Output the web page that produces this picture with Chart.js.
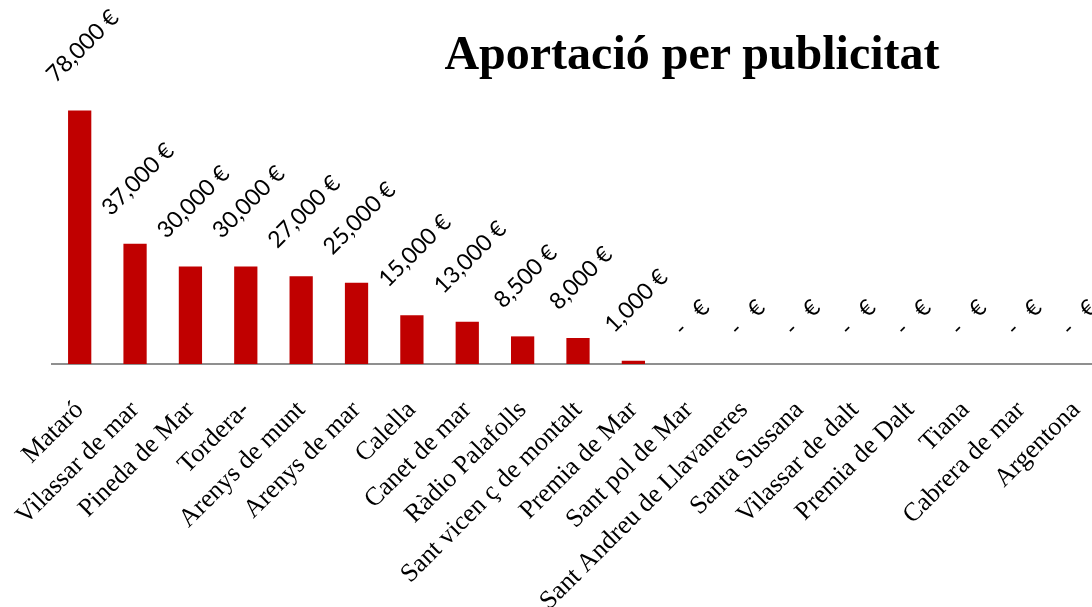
<!DOCTYPE html>
<html>
<head>
<meta charset="utf-8">
<script src="https://cdn.jsdelivr.net/npm/chart.js@4/dist/chart.umd.min.js"></script>
<style>
    html, body { margin: 0; padding: 0; background: #fff; overflow: hidden; }
    #wrap { position: relative; width: 1104px; height: 607px; }
    #title {
        position: absolute; left: 0; top: 29px; width: 1384px; text-align: center;
        font-family: 'Liberation Serif', 'Times New Roman', serif; font-weight: bold;
        font-size: 48px; color: #000; line-height: 1; pointer-events: none;
    }
</style>
</head>
<body>
<div id="wrap">
    <canvas id="chart"></canvas>
    <div id="title">Aportació per publicitat</div>
</div>
<script>
// Datos del gráfico
const categories = [
    'Mataró', 'Vilassar de mar', 'Pineda de Mar', 'Tordera-', 'Arenys de munt',
    'Arenys de mar', 'Calella', 'Canet de mar', 'Ràdio Palafolls', 'Sant vicen ç de montalt',
    'Premia de Mar', 'Sant pol de Mar', 'Sant Andreu de Llavaneres', 'Santa Sussana',
    'Vilassar de dalt', 'Premia de Dalt', 'Tiana', 'Cabrera de mar', 'Argentona'
];
const values = [78000, 37000, 30000, 30000, 27000, 25000, 15000, 13000, 8500, 8000, 1000, 0, 0, 0, 0, 0, 0, 0, 0];

const barColor = '#C00000';
const labelFont = "23px Lato, 'DejaVu Sans', sans-serif";

// Formato contable: "78,000 €" o "-   €"
const formatEuro = (v) => v === 0 ? '-   €' : v.toLocaleString('en-US') + ' €';

// Etiquetas de valor rotadas encima de cada barra
const valueLabels = {
    id: 'valueLabels',
    afterDatasetsDraw(chart) {
        const ctx = chart.ctx;
        const meta = chart.getDatasetMeta(0);
        ctx.save();
        ctx.font = labelFont;
        ctx.fillStyle = '#000';
        ctx.textAlign = 'center';
        ctx.textBaseline = 'middle';
        meta.data.forEach((bar, i) => {
            const text = formatEuro(values[i]);
            const w = ctx.measureText(text).width;
            const half = (w + 15) * Math.SQRT1_2 / 2;
            const cx = bar.x + 3;
            const cy = bar.y - 27 - half;
            ctx.save();
            ctx.translate(cx, cy);
            ctx.rotate(-Math.PI / 4);
            ctx.fillText(text, 0, 0);
            ctx.restore();
        });
        ctx.restore();
    }
};

new Chart(document.getElementById('chart'), {
    type: 'bar',
    data: {
        labels: categories,
        datasets: [{
            data: values,
            backgroundColor: barColor,
            borderWidth: 0,
            barPercentage: 0.42,
            categoryPercentage: 1
        }]
    },
    options: {
        responsive: true,
        maintainAspectRatio: false,
        animation: false,
        layout: { padding: { left: 52, right: 0, top: 0, bottom: 0 } },
        plugins: {
            legend: { display: false },
            tooltip: { enabled: false }
        },
        scales: {
            x: {
                grid: { display: false, drawTicks: false },
                border: { display: true, color: '#8f8f8f', width: 2 },
                ticks: {
                    autoSkip: false,
                    minRotation: 45,
                    maxRotation: 45,
                    padding: 31,
                    color: '#000',
                    font: { family: "'Liberation Serif', 'Times New Roman', serif", size: 26 }
                },
                afterFit(scale) {
                    scale.paddingLeft = 0;
                    scale.paddingRight = 0;
                    scale.height = 243;
                }
            },
            y: {
                display: false,
                min: 0,
                max: 112000
            }
        }
    },
    plugins: [valueLabels]
});
</script>
</body>
</html>
